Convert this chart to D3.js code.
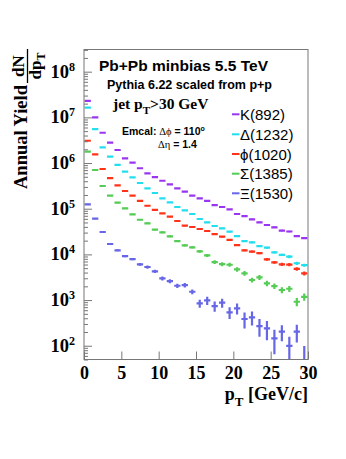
<!DOCTYPE html>
<html>
<head>
<meta charset="utf-8">
<script src="https://cdn.jsdelivr.net/npm/d3@7"></script>
<style>
  body { margin: 0; background: #fff; }
  text { fill: #000; }
</style>
</head>
<body>
<svg id="chart" width="346" height="459"></svg>
<script>
// pT bins, 1 GeV/c wide (lower edges)
const binLow = [0, 1, 2, 3, 4, 5, 6, 7, 8, 9, 10, 11, 12, 13, 14, 15, 16, 17, 18, 19, 20, 21, 22, 23, 24, 25, 26, 27, 28, 29];
const binWidth = 1;

const kstar = [2.3e7, 1.0e7, 4.6e6, 2.8e6, 1.93e6, 1.27e6, 1.02e6, 7.7e5, 5.96e5, 4.9e5, 4.1e5, 3.42e5, 2.8e5, 2.36e5, 1.93e5, 1.69e5, 1.48e5, 1.2e5, 1.09e5, 9.7e4, 7.66e4, 6.9e4, 5.86e4, 5.04e4, 4.4e4, 3.92e4, 3.33e4, 3.17e4, 2.52e4, 2.28e4];
const delta = [1.64e7, 5.5e6, 2.2e6, 1.38e6, 9.1e5, 6.46e5, 4.87e5, 3.66e5, 2.8e5, 2.21e5, 1.69e5, 1.38e5, 1.09e5, 9.2e4, 7.66e4, 5.96e4, 5.04e4, 4.18e4, 3.72e4, 3.14e4, 2.52e4, 1.96e4, 1.84e4, 1.52e4, 1.4e4, 1.11e4, 9.8e3, 8.9e3, 6.4e3, 5.8e3];
const phi = [3.08e6, 1.55e6, 7.4e5, 4.66e5, 3.26e5, 2.44e5, 1.93e5, 1.48e5, 1.16e5, 9.4e4, 7.9e4, 6.68e4, 5.38e4, 4.25e4, 3.98e4, 3.6e4, 3.25e4, 2.79e4, 2.44e4, 2.07e4, 1.6e4, 1.23e4, 1.15e4, 1.07e4, 7.8e3, 6.7e3, 6.07e3, 6.0e3, 4.8e3, 3.85e3];
const sigma = [1.77e6, 7.05e5, 3.14e5, 1.93e5, 1.36e5, 1.02e5, 7.55e4, 5.74e4, 4.8e4, 3.47e4, 3.04e4, 2.49e4, 1.96e4, 1.58e4, 1.43e4, 1.17e4, 9.5e3, 6.8e3, 6.15e3, 5.94e3, 4.71e3, 3.85e3, 2.75e3, 3.15e3, 2.33e3, 2.03e3, 1.66e3, 1.77e3, 920, 1180];
const xi = [1.25e5, 6.04e4, 3.09e4, 1.69e4, 1.23e4, 9.2e3, 7.9e3, 6.07e3, 5.3e3, 4.26e3, 2.99e3, 2.61e3, 2.06e3, 2.13e3, 1.52e3, 850, 980, 740, 875, 540, 660, 385, 420, 270, 240, 145, 203, 99, 203, 30];

// relative statistical errors
const kstarErr = [0.01, 0.01, 0.01, 0.01, 0.01, 0.01, 0.01, 0.01, 0.01, 0.01, 0.015, 0.015, 0.015, 0.015, 0.015, 0.02, 0.02, 0.02, 0.02, 0.02, 0.03, 0.03, 0.03, 0.03, 0.03, 0.035, 0.035, 0.035, 0.04, 0.04];
const deltaErr = [0.01, 0.01, 0.01, 0.01, 0.01, 0.01, 0.01, 0.01, 0.015, 0.015, 0.02, 0.02, 0.02, 0.02, 0.025, 0.025, 0.03, 0.03, 0.03, 0.035, 0.04, 0.04, 0.05, 0.05, 0.05, 0.06, 0.06, 0.07, 0.08, 0.08];
const phiErr = [0.01, 0.01, 0.01, 0.01, 0.01, 0.015, 0.015, 0.015, 0.02, 0.02, 0.02, 0.025, 0.025, 0.03, 0.03, 0.03, 0.035, 0.035, 0.04, 0.04, 0.05, 0.05, 0.06, 0.06, 0.07, 0.07, 0.08, 0.08, 0.09, 0.1];
const sigmaErr = [0.02, 0.02, 0.02, 0.02, 0.03, 0.03, 0.03, 0.03, 0.04, 0.04, 0.05, 0.05, 0.05, 0.06, 0.06, 0.07, 0.08, 0.09, 0.1, 0.1, 0.11, 0.12, 0.12, 0.13, 0.14, 0.14, 0.15, 0.15, 0.2, 0.18];
const xiErr = [0.03, 0.03, 0.03, 0.04, 0.05, 0.06, 0.06, 0.07, 0.08, 0.08, 0.1, 0.1, 0.11, 0.11, 0.12, 0.2, 0.2, 0.25, 0.22, 0.29, 0.27, 0.38, 0.34, 0.42, 0.45, 0.55, 0.38, 0.6, 0.42, 2.3];

const names = ["K(892)", "\u0394(1232)", "\u03d5(1020)", "\u03a3(1385)", "\u039e(1530)"];
const colors = ["#9a36f0", "#22dfee", "#ff3319", "#55cc55", "#6666e6"];

const xTicks = [0, 5, 10, 15, 20, 25, 30];

const svg = d3.select("#chart");
const plotL = 84, plotR = 308, plotT = 49.5, plotB = 359.5;

const x = d3.scaleLinear().domain([0, 30]).range([plotL, plotR]);
const y = d3.scaleLog().domain([50, 3.06e8]).range([plotB, plotT]);

svg.append("rect").attr("width", 346).attr("height", 459).attr("fill", "#fff");

svg.append("defs").append("clipPath").attr("id", "plotclip")
  .append("rect")
  .attr("x", plotL).attr("y", plotT)
  .attr("width", plotR - plotL).attr("height", plotB - plotT);

// data: horizontal bin-width bars + vertical error bars
const series = [
  { values: kstar, errs: kstarErr },
  { values: delta, errs: deltaErr },
  { values: phi, errs: phiErr },
  { values: sigma, errs: sigmaErr },
  { values: xi, errs: xiErr }
].map((s, k) => ({ ...s, name: names[k], color: colors[k] }));

const plot = svg.append("g").attr("clip-path", "url(#plotclip)");

series.forEach(s => {
  const pts = s.values.map((v, i) => ({ lo: binLow[i], v: v, e: v * s.errs[i] }));
  const sg = plot.append("g").attr("stroke", s.color).attr("stroke-width", 2.2);

  sg.selectAll("line.h").data(pts).join("line")
    .attr("class", "h")
    .attr("x1", d => x(d.lo) + 0.6)
    .attr("x2", d => x(d.lo + binWidth) - 0.6)
    .attr("y1", d => y(d.v))
    .attr("y2", d => y(d.v));

  sg.selectAll("line.v").data(pts).join("line")
    .attr("class", "v")
    .attr("x1", d => x(d.lo + binWidth / 2))
    .attr("x2", d => x(d.lo + binWidth / 2))
    .attr("y1", d => y(d.v + d.e))
    .attr("y2", d => d.v - d.e > 0 ? y(d.v - d.e) : plotB + 5);
});

// axes
const xAxis = svg.append("g")
  .attr("transform", `translate(0,${plotB})`)
  .call(d3.axisBottom(x).tickValues(xTicks).tickSize(-8).tickPadding(7).tickFormat(d3.format("d")));
xAxis.select(".domain").remove();
xAxis.selectAll("line").attr("stroke", "#777");
xAxis.selectAll("text")
  .attr("font-family", "Liberation Serif, Times New Roman, serif")
  .attr("font-weight", "bold")
  .attr("font-size", 18);

const yTicks = y.ticks();
const isMajor = v => Math.abs(Math.log10(v) - Math.round(Math.log10(v))) < 1e-6;
const yAxis = svg.append("g")
  .attr("transform", `translate(${plotL},0)`)
  .call(d3.axisLeft(y).tickValues(yTicks).tickSize(-8).tickFormat(""));
yAxis.select(".domain").remove();
yAxis.selectAll("line")
  .attr("stroke", "#777")
  .attr("x2", d => isMajor(d) ? 8 : 4);

const yLabels = svg.append("g")
  .attr("font-family", "Liberation Serif, Times New Roman, serif")
  .attr("font-weight", "bold");
yTicks.filter(isMajor).forEach(v => {
  const t = yLabels.append("text")
    .attr("x", 75).attr("y", y(v) + 6)
    .attr("text-anchor", "end");
  t.append("tspan").attr("font-size", 18.5).text("10");
  t.append("tspan").attr("font-size", 12).attr("dy", -7).text(Math.round(Math.log10(v)));
});

// frame
svg.append("rect")
  .attr("x", plotL).attr("y", plotT)
  .attr("width", plotR - plotL).attr("height", plotB - plotT)
  .attr("fill", "none").attr("stroke", "#777").attr("stroke-width", 1);

// axis titles
const xt = svg.append("text")
  .attr("x", plotR).attr("y", 400)
  .attr("text-anchor", "end")
  .attr("font-family", "Liberation Serif, Times New Roman, serif")
  .attr("font-weight", "bold").attr("font-size", 18);
xt.append("tspan").text("p");
xt.append("tspan").attr("font-size", 13).attr("dy", 6).text("T");
xt.append("tspan").attr("dy", -6).text(" [GeV/c]");

const yt = svg.append("g")
  .attr("font-family", "Liberation Serif, Times New Roman, serif")
  .attr("font-weight", "bold")
  .attr("transform", "translate(27,189) rotate(-90)");
yt.append("text").attr("x", 0).attr("y", 0).attr("font-size", 18.5).text("Annual Yield");
// dN / dpT fraction
const fc = 123;
yt.append("line").attr("x1", fc - 17).attr("x2", fc + 17).attr("y1", 0.5).attr("y2", 0.5)
  .attr("stroke", "#000").attr("stroke-width", 1.3);
yt.append("text").attr("x", fc).attr("y", -3).attr("text-anchor", "middle").attr("font-size", 17).text("dN");
const den = yt.append("text").attr("x", fc).attr("y", 14).attr("text-anchor", "middle").attr("font-size", 17);
den.append("tspan").text("dp");
den.append("tspan").attr("font-size", 12).attr("dy", 4).text("T");

// labels inside the frame
const sans = "Liberation Sans, Arial, Helvetica, sans-serif";
svg.append("text").attr("x", 99).attr("y", 71)
  .attr("font-family", sans).attr("font-weight", "bold").attr("font-size", 15.5)
  .text("Pb+Pb minbias 5.5 TeV");
svg.append("text").attr("x", 107).attr("y", 88.5)
  .attr("font-family", sans).attr("font-weight", "bold").attr("font-size", 12.5)
  .text("Pythia 6.22 scaled from p+p");

const jet = svg.append("text").attr("x", 113).attr("y", 109)
  .attr("font-family", "Liberation Serif, Times New Roman, serif")
  .attr("font-weight", "bold").attr("font-size", 15.5);
jet.append("tspan").text("jet p");
jet.append("tspan").attr("font-size", 11).attr("dy", 5).text("T");
jet.append("tspan").attr("dy", -5).text(">30 GeV");

const em = svg.append("text").attr("x", 122).attr("y", 135)
  .attr("font-family", sans).attr("font-weight", "bold").attr("font-size", 10.5);
em.append("tspan").text("Emcal: ");
em.append("tspan").attr("font-weight", "normal").attr("font-family", "Liberation Serif, serif").text("\u0394\u03d5");
em.append("tspan").text(" = 110");
em.append("tspan").attr("font-size", 7).attr("dy", -4).text("o");

const eta = svg.append("text").attr("x", 158).attr("y", 148)
  .attr("font-family", sans).attr("font-weight", "bold").attr("font-size", 10.5);
eta.append("tspan").attr("font-weight", "normal").attr("font-family", "Liberation Serif, serif").text("\u0394\u03b7");
eta.append("tspan").text(" = 1.4");

// legend
const legendY = [114.3, 134.3, 154, 173.7, 193.3];
const legend = svg.append("g");
series.forEach((s, k) => {
  legend.append("line")
    .attr("x1", 232).attr("x2", 239.5)
    .attr("y1", legendY[k]).attr("y2", legendY[k])
    .attr("stroke", s.color).attr("stroke-width", 2);
  legend.append("text")
    .attr("x", 240).attr("y", legendY[k] + 5.5)
    .attr("font-family", sans).attr("font-size", 15)
    .text(s.name);
});
</script>
</body>
</html>
